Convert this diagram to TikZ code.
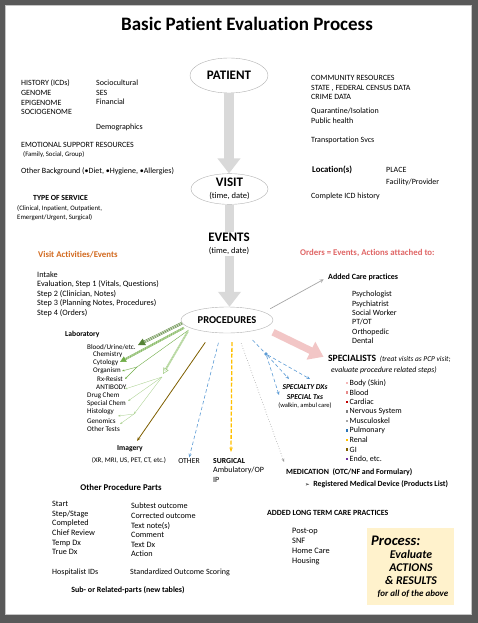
\documentclass[tikz,border=0pt]{standalone}
\usepackage{fontspec}
\setmainfont{Carlito}[Ligatures={TeX,NoCommon}]
\newfontfamily\symfont{DejaVu Sans}
\usetikzlibrary{shapes.geometric, arrows.meta, positioning}

\definecolor{framegray}{HTML}{595959}
\definecolor{arrowgray}{HTML}{D9D9D9}
\definecolor{pinkarr}{HTML}{F2C6C6}
\definecolor{orangetxt}{HTML}{D2691E}
\definecolor{redtxt}{HTML}{E06666}
\definecolor{labdark}{HTML}{548235}
\definecolor{labmid}{HTML}{70AD47}
\definecolor{lablight}{HTML}{A9D18E}
\definecolor{bluedash}{HTML}{5B9BD5}
\definecolor{surgyellow}{HTML}{FFC000}
\definecolor{imgbrown}{HTML}{7F6000}
\definecolor{boxyellow}{HTML}{FFF2CC}
\definecolor{skinc}{HTML}{F4B6B6}
\definecolor{bloodc}{HTML}{E68A8A}
\definecolor{cardc}{HTML}{C00000}
\definecolor{nervc}{HTML}{7F7F7F}
\definecolor{muscc}{HTML}{A6A6A6}
\definecolor{pulmc}{HTML}{2E75B6}
\definecolor{renalc}{HTML}{FFC000}
\definecolor{gic}{HTML}{7F6000}
\definecolor{endoc}{HTML}{7030A0}

\newcommand{\bodysize}{\fontsize{8}{9.7}\selectfont}
\newcommand{\smallsize}{\fontsize{6.8}{8}\selectfont}

\tikzset{
  oval/.style={ellipse, draw=gray!60, line width=0.4pt, inner sep=0pt},
  txt/.style={anchor=west, inner sep=0pt, align=left, font=\bodysize},
  boldtxt/.style={txt, font=\fontsize{8.8}{10}\selectfont\bfseries},
  tinytxt/.style={txt, font=\smallsize},
  labtxt/.style={txt, font=\fontsize{7.1}{8}\selectfont},
  bullet/.style={rectangle, inner sep=0pt, minimum size=2.2pt},
  bigarrow/.style={draw=arrowgray, line width=9.5pt, -{Triangle[width=22pt,length=15pt]}},
  bluearr/.style={draw=bluedash, line width=0.6pt, dash pattern=on 3.5pt off 2.5pt, -{Stealth[length=3.5pt,width=3pt]}},
}

\begin{document}
\begin{tikzpicture}[x=1pt, y=-1pt]
  % frame
  \fill[framegray] (0,0) rectangle (478,623);
  \fill[white] (5,5) rectangle (472,615);
  \draw[gray!45, line width=1.2pt] (5.6,5.6) rectangle (471.4,614.4);
  \useasboundingbox (0,0) rectangle (478,623);

  \node[font=\fontsize{19}{22}\selectfont\bfseries] (title) at (247,24) {Basic Patient Evaluation Process};

  % main chain
  \node[oval, minimum width=78pt, minimum height=35pt, font=\fontsize{13}{14}\selectfont\bfseries] (patient) at (229,75.5) {PATIENT};
  \node[oval, minimum width=77pt, minimum height=28pt, align=center, font=\fontsize{8.5}{12}\selectfont] (visit) at (229.5,189)
    {{\fontsize{13}{14}\selectfont\bfseries VISIT}\\(time, date)};
  \node[oval, minimum width=92pt, minimum height=26pt, font=\fontsize{10.5}{12}\selectfont\bfseries] (proc) at (227,320) {PROCEDURES};
  \draw[bigarrow] (patient.south) -- (patient.south |- visit.north);
  \draw[bigarrow] (visit.south) -- (visit.south |- proc.north);
  \node[fill=white, inner sep=1pt, align=center, font=\fontsize{8.5}{12}\selectfont] (events) at (229,244)
    {{\fontsize{13}{14}\selectfont\bfseries EVENTS}\\(time, date)};

  % background, left
  \node[txt] (hist) at (21,97.5) {HISTORY (ICDs)\\GENOME\\EPIGENOME\\SOCIOGENOME};
  \node[txt] (socio) at (96,92.5) {Sociocultural\\SES\\Financial};
  \node[txt] (demo) at (96,127) {Demographics};
  \node[txt] (emot) at (21,145) {EMOTIONAL SUPPORT RESOURCES};
  \node[tinytxt] (family) at (23,154.5) {(Family, Social, Group)};
  \node[txt] (backgr) at (21,171) {Other Background (•Diet, •Hygiene, •Allergies)};
  \node[txt, font=\fontsize{7.8}{9}\selectfont\bfseries] (servtype) at (33,198) {TYPE OF SERVICE};
  \node[tinytxt, font=\fontsize{6.8}{8.5}\selectfont] (servlist) at (17,213) {(Clinical, Inpatient, Outpatient,\\Emergent/Urgent, Surgical)};
  \node[boldtxt, text=orangetxt] (visitact) at (38,255) {Visit Activities/Events};
  \node[txt, font=\fontsize{8.2}{9.5}\selectfont] (steps) at (37,294)
    {Intake\\Evaluation, Step 1 (Vitals, Questions)\\Step 2 (Clinician, Notes)\\Step 3 (Planning Notes, Procedures)\\Step 4 (Orders)};

  % background, right
  \node[txt] (community) at (311,87.5) {COMMUNITY RESOURCES\\STATE , FEDERAL CENSUS DATA\\CRIME DATA};
  \node[txt] (quarant) at (311,116) {Quarantine/Isolation\\Public health};
  \node[txt] (transp) at (311,140) {Transportation Svcs};
  \node[boldtxt] (location) at (312,170) {Location(s)};
  \node[txt] (place) at (386,177) {PLACE\\[2.3pt]Facility/Provider};
  \node[txt] (icdhist) at (311,196) {Complete ICD history};
  \node[boldtxt, text=redtxt] (orders) at (300,253) {Orders = Events, Actions attached to:};

  % orders
  \node[txt, font=\fontsize{8}{9}\selectfont\bfseries] (addcare) at (328,277) {Added Care practices};
  \node[txt, font=\fontsize{8}{9.4}\selectfont] (carelist) at (352,317.5)
    {Psychologist\\Psychiatrist\\Social Worker\\PT/OT\\Orthopedic\\Dental};
  \node[txt] (special) at (328,359)
    {{\fontsize{9.6}{10}\selectfont\bfseries SPECIALISTS}\ \ {\fontsize{7.4}{8}\selectfont\itshape(treat visits as PCP visit;}};
  \node[txt, font=\fontsize{7.8}{9}\selectfont\itshape] (special2) at (331,370) {evaluate procedure related steps)};
  \foreach \c/\t [count=\i from 0] in {skinc/Body (Skin), bloodc/Blood, cardc/Cardiac, nervc/Nervous System,
      muscc/Musculoskel, pulmc/Pulmonary, renalc/Renal, gic/GI, endoc/{Endo, etc.}}{
    \node[txt] (organ\i) at (349.5,383+9.5*\i) {\t};
    \node[bullet, fill=\c, left=1.2pt of organ\i] {};
  }
  \node[align=center, inner sep=0pt, font=\fontsize{7.5}{10}\selectfont\bfseries\itshape] (specdx) at (305,392) {SPECIALTY DXs\\SPECIAL Txs};
  \node[inner sep=0pt, font=\fontsize{6.5}{8}\selectfont] (walkin) at (305,406) {(walkin, ambul care)};

  % laboratory
  \node[txt, font=\fontsize{7.6}{8}\selectfont\bfseries] (lab) at (65,334) {Laboratory};
  \node[labtxt] (blood) at (87,347) {Blood/Urine/etc.};
  \node[labtxt] (chem) at (93,355) {Chemistry};
  \node[labtxt] (cyto) at (93,363) {Cytology};
  \node[labtxt] (organism) at (93,371) {Organism};
  \node[labtxt] (rxres) at (97,379) {Rx-Resist};
  \node[labtxt] (antibody) at (96,387) {ANTIBODY};
  \node[labtxt] (drugchem) at (87,396) {Drug Chem};
  \node[labtxt] (specchem) at (87,404) {Special Chem};
  \node[labtxt] (histol) at (87,412) {Histology};
  \node[labtxt] (genomics) at (87,421) {Genomics};
  \node[labtxt] (othertests) at (87,429) {Other Tests};

  \coordinate (labA) at (138,345);
  \coordinate (labB) at (120,362);
  \coordinate (labC) at (163,374);
  \coordinate (split1) at (137,367);
  \coordinate (fan) at (162,377);
  \coordinate (split2) at (134,414);
  \draw[labdark, line width=0.5pt, double=white, double distance=1.6pt, shorten >=5pt] (proc.184) -- (labA);
  \draw[labdark, line width=0.5pt, -{Triangle[length=7pt,width=7pt]}] (proc.184) -- (labA);
  \draw[labmid, line width=0.5pt, double=white, double distance=1pt, shorten >=4pt, shorten <=3pt] (proc.189) -- (labB);
  \draw[labmid, line width=0.5pt, -{Triangle[length=6pt,width=6pt]}, shorten <=3pt] (proc.189) -- (labB);
  \draw[labmid, line width=0.4pt, shorten <=3pt] (proc.193) -- (split1);
  \draw[labmid, line width=0.4pt, -{Stealth[length=2.5pt]}] (split1) -- (122,371);
  \draw[labmid, line width=0.4pt, -{Stealth[length=2.5pt]}] (split1) -- (125,379);
  \draw[lablight, line width=0.5pt, double=white, double distance=0.8pt, shorten >=4pt, shorten <=4pt] (proc.192) -- (labC);
  \draw[lablight!80!labmid, line width=0.5pt, -{Triangle[open, length=6pt,width=6pt]}, shorten <=4pt] (proc.192) -- (labC);
  \foreach \tip in {(125,389), (128,401), (split2)}
    \draw[lablight, line width=0.35pt, -{Stealth[length=2.5pt]}] (fan) -- \tip;
  \draw[lablight, line width=0.35pt, -{Stealth[length=2.5pt]}] (split2) -- (118,416);
  \draw[lablight, line width=0.35pt, -{Stealth[length=2.5pt]}] (split2) -- (120,424);

  % other procedure branches
  \node[inner sep=0pt, font=\fontsize{7.6}{8}\selectfont\bfseries] (imagery) at (130,449) {Imagery};
  \node[inner sep=0pt, font=\fontsize{7}{8}\selectfont] (imaglist) at (129,460) {(XR, MRI, US, PET, CT, etc.)};
  \node[inner sep=0pt, font=\fontsize{7.7}{9}\selectfont] (other) at (189,461) {OTHER};
  \node[txt, font=\fontsize{7.7}{8}\selectfont\bfseries] (surgical) at (213,461) {SURGICAL};
  \node[txt] (surglist) at (213,474.5) {Ambulatory/OP\\IP};
  \node[txt, font=\fontsize{7.9}{8}\selectfont\bfseries] (medic) at (286,472) {MEDICATION\ \ (OTC/NF and Formulary)};
  \node[txt, font=\fontsize{7.9}{8}\selectfont\bfseries] (device) at (305,484)
    {{\symfont\fontsize{5.5}{6}\selectfont ➢}\ \ Registered Medical Device (Products List)};

  \coordinate (imgtip) at (137,441);
  \coordinate (surgtip) at (231,452);
  \coordinate (medtip) at (284,462);
  \node[circle, fill=bluedash, inner sep=0pt, minimum size=3.6pt] (bluedot) at (266,354) {};
  \coordinate (dxtipA) at (279,395);
  \coordinate (dxtipB) at (289,379);
  \coordinate (dxtipC) at (310,379);

  \draw[gray!70, line width=0.7pt, -stealth, shorten <=7pt, shorten >=5pt] (proc.12) -- (addcare.west);
  \draw[pinkarr, line width=7pt, -{Triangle[width=19pt,length=14pt]}, shorten <=10pt, shorten >=5pt] (proc.348) -- (special.west);
  \draw[imgbrown, line width=0.8pt, -{Stealth[length=4pt]}, shorten <=12pt] (proc.220) -- (imgtip);
  \draw[bluearr, shorten <=10pt, shorten >=1pt] (proc.245) -- (other.north);
  \draw[surgyellow, line width=1.3pt, dash pattern=on 4pt off 1.8pt, -{Stealth[length=4.5pt]}, shorten <=9pt] (proc.291) -- (surgtip);
  \draw[gray!80, line width=0.6pt, dotted, -{Stealth[length=3.5pt]}, shorten <=11pt] (proc.309) -- (medtip);
  \draw[bluearr, -, shorten <=11pt] (proc.326) -- (bluedot);
  \foreach \tip in {dxtipA, dxtipB, dxtipC}
    \draw[bluearr] (bluedot) -- (\tip);

  % procedure parts
  \node[inner sep=0pt, font=\fontsize{8.8}{10}\selectfont\bfseries] (parts) at (121,487) {Other Procedure Parts};
  \node[txt, font=\fontsize{8.2}{9.6}\selectfont] (partsleft) at (52,528)
    {Start\\Step/Stage\\Completed\\Chief Review\\Temp Dx\\True Dx};
  \node[txt, font=\fontsize{8.2}{9.6}\selectfont] (partsright) at (131,530)
    {Subtest outcome\\Corrected outcome\\Text note(s)\\Comment\\Text Dx\\Action};
  \node[txt] (hospit) at (52,572) {Hospitalist IDs};
  \node[txt] (scoring) at (130,572) {Standardized Outcome Scoring};
  \node[inner sep=0pt, font=\fontsize{8}{9}\selectfont\bfseries] (subparts) at (128,590) {Sub- or Related-parts (new tables)};

  % long term care
  \node[txt, font=\fontsize{7.9}{9}\selectfont\bfseries] (longterm) at (267,513) {ADDED LONG TERM CARE PRACTICES};
  \node[txt, font=\fontsize{8.3}{9.7}\selectfont] (ltclist) at (292,546.5) {Post-op\\SNF\\Home Care\\Housing};

  % process box
  \fill[boxyellow] (367,528) rectangle (454,605);
  \node[txt, font=\fontsize{14.6}{16}\selectfont\bfseries\itshape] (processlbl) at (371,541) {Process:};
  \node[inner sep=0pt, align=center, font=\fontsize{11.8}{13}\selectfont\bfseries\itshape] (evalact) at (411,567)
    {Evaluate\\ACTIONS\\\& RESULTS};
  \node[inner sep=0pt, font=\fontsize{9}{10}\selectfont\bfseries\itshape] (forall) at (413,594) {for all of the above};
\end{tikzpicture}
\end{document}
